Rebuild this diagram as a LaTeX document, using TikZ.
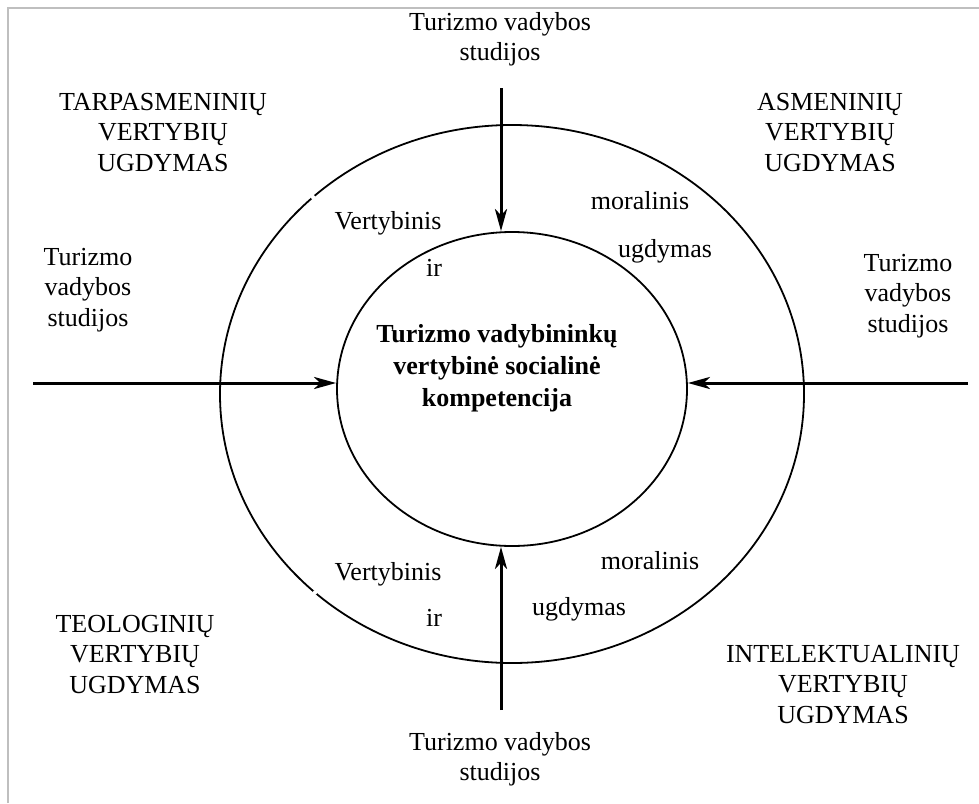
\documentclass[tikz,border=0pt]{standalone}
\usepackage{fontspec}
\setmainfont{Liberation Serif}
\usetikzlibrary{arrows.meta,shapes.geometric}
\begin{document}
\begin{tikzpicture}[x=1pt,y=-1pt,
  lbl/.style={align=center,inner sep=0pt,font=\fontsize{26}{30.5}\selectfont},
  ctr/.style={align=center,inner sep=0pt,font=\fontsize{26}{32}\selectfont\bfseries},
  flow/.style={line width=3pt,-{Stealth[length=22pt,width=12pt,inset=6pt]}},
  ring/.style={line width=1.8pt}]
\useasboundingbox (0,0) rectangle (979,803);
% frame edges
\draw[line width=2.5pt,color=black!25] (8,803) -- (8,8) -- (979,8);
% rings
\draw[ring] (512,394) ellipse [x radius=292, y radius=269];
% two small breaks in the outer ring
\fill[white] (313,197.1) circle (2.2);
\fill[white] (315,592.5) circle (2.2);
\node[ring,draw,ellipse,minimum width=350pt,minimum height=314pt,inner sep=0pt] (core) at (512,389) {};
% centre text
\node[ctr,anchor=north] (title) at (497,324) {Turizmo vadybininkų\\vertybinė socialinė\\kompetencija};
% studies entering from four sides
\node[lbl,anchor=north] (top) at (500,12) {Turizmo vadybos\\studijos};
\node[lbl,anchor=north] (bot) at (500,732) {Turizmo vadybos\\studijos};
\node[lbl,anchor=north] (lft) at (88,248) {Turizmo\\vadybos\\studijos};
\node[lbl,anchor=north] (rgt) at (908,254) {Turizmo\\vadybos\\studijos};
\coordinate (tA) at (501,88);
\coordinate (bA) at (501,710);
\coordinate (lA) at (33,383);
\coordinate (rA) at (968,383);
\draw[flow] (tA) -- (tA |- core.north);
\draw[flow] (bA) -- (bA |- core.south);
\draw[flow] (lA) -- (core.west |- lA);
\draw[flow] (rA) -- (core.east |- rA);
% value areas
\node[lbl,anchor=north] (tarp) at (163,93) {TARPASMENINIŲ\\VERTYBIŲ\\UGDYMAS};
\node[lbl,anchor=north] (asm) at (830,93) {ASMENINIŲ\\VERTYBIŲ\\UGDYMAS};
\node[lbl,anchor=north] (teol) at (135,615) {TEOLOGINIŲ\\VERTYBIŲ\\UGDYMAS};
\node[lbl,anchor=north] (intel) at (843,645) {INTELEKTUALINIŲ\\VERTYBIŲ\\UGDYMAS};
% words in the ring
\node[lbl,anchor=base] (v1) at (388,229) {Vertybinis};
\node[lbl,anchor=base] (i1) at (434,276) {ir};
\node[lbl,anchor=base] (m1) at (640,209) {moralinis};
\node[lbl,anchor=base] (u1) at (665,257) {ugdymas};
\node[lbl,anchor=base] (v2) at (388,580) {Vertybinis};
\node[lbl,anchor=base] (i2) at (434,626) {ir};
\node[lbl,anchor=base] (m2) at (650,569) {moralinis};
\node[lbl,anchor=base] (u2) at (579,615) {ugdymas};
\end{tikzpicture}
\end{document}
